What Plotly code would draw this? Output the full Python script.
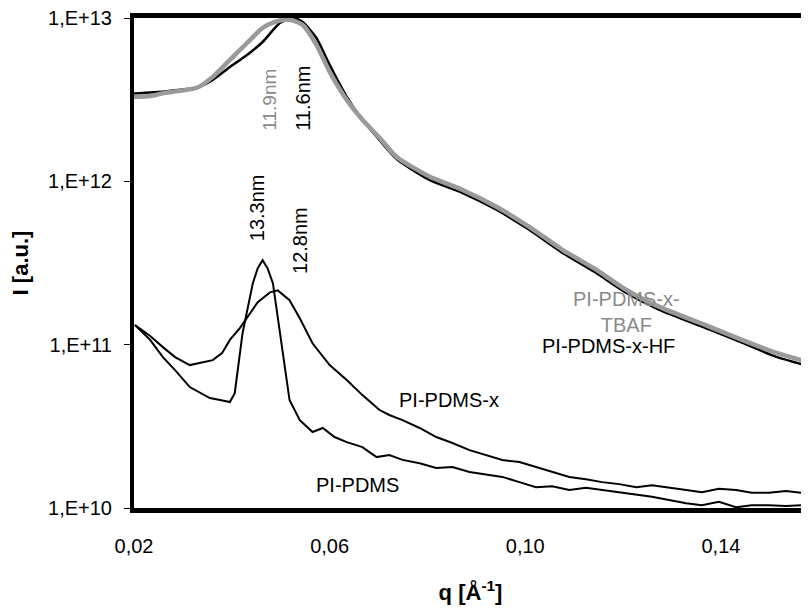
import plotly.graph_objects as go

# ---- data ----
q_tbaf = [0.0200, 0.0233, 0.0263, 0.0294, 0.0329, 0.0361, 0.0390, 0.0431, 0.0463, 0.0488,
          0.0504, 0.0522, 0.0545, 0.0573, 0.0600, 0.0635, 0.0667, 0.0702, 0.0737, 0.0804,
          0.0871, 0.0941, 0.1008, 0.1076, 0.1145, 0.1206, 0.1273, 0.1376, 0.1443, 0.1512, 0.1576]
i_tbaf = [3.29e12, 3.33e12, 3.48e12, 3.58e12, 3.74e12, 4.36e12, 5.31e12, 7.03e12, 8.69e12, 9.46e12,
          9.72e12, 9.72e12, 9.06e12, 6.84e12, 4.68e12, 3.15e12, 2.38e12, 1.85e12, 1.41e12, 1.07e12,
          8.88e11, 6.98e11, 5.27e11, 3.81e11, 2.88e11, 2.17e11, 1.71e11, 1.29e11, 1.07e11, 8.94e10, 7.87e10]

q_hf = [0.0200, 0.0263, 0.0329, 0.0361, 0.0396, 0.0431, 0.0463, 0.0498, 0.0518, 0.0533,
        0.0545, 0.0573, 0.0600, 0.0635, 0.0667, 0.0702, 0.0737, 0.0804, 0.0871, 0.0941,
        0.1008, 0.1076, 0.1145, 0.1206, 0.1273, 0.1376, 0.1443, 0.1512, 0.1576]
i_hf = [3.45e12, 3.55e12, 3.75e12, 4.18e12, 5.01e12, 5.94e12, 7.13e12, 9.31e12, 9.86e12, 9.86e12,
        9.46e12, 7.55e12, 5.16e12, 3.29e12, 2.38e12, 1.79e12, 1.37e12, 1.02e12, 8.51e11, 6.70e11,
        5.05e11, 3.65e11, 2.75e11, 2.08e11, 1.64e11, 1.24e11, 1.03e11, 8.45e10, 7.44e10]

q_pdms = [0.0202, 0.0233, 0.0259, 0.0284, 0.0314, 0.0335, 0.0355, 0.0376, 0.0396, 0.0406,
          0.0422, 0.0443, 0.0453, 0.0463, 0.0473, 0.0484, 0.0504, 0.0518, 0.0539, 0.0565,
          0.0586, 0.0610, 0.0635, 0.0667, 0.0696, 0.0722, 0.0749, 0.0784, 0.0818, 0.0851,
          0.0886, 0.0920, 0.0953, 0.0988, 0.1022, 0.1055, 0.1090, 0.1124, 0.1157, 0.1192,
          0.1227, 0.1259, 0.1294, 0.1329, 0.1361, 0.1396, 0.1431, 0.1463, 0.1498, 0.1533,
          0.1565, 0.1576]
i_pdms = [1.32e11, 1.07e11, 8.39e10, 6.98e10, 5.50e10, 5.05e10, 4.71e10, 4.58e10, 4.45e10, 5.05e10,
          1.18e11, 2.38e11, 2.94e11, 3.29e11, 2.94e11, 2.38e11, 9.25e10, 4.58e10, 3.45e10, 2.92e10,
          3.09e10, 2.72e10, 2.53e10, 2.36e10, 2.05e10, 2.11e10, 1.97e10, 1.88e10, 1.76e10, 1.78e10,
          1.66e10, 1.61e10, 1.55e10, 1.44e10, 1.34e10, 1.36e10, 1.29e10, 1.33e10, 1.29e10, 1.25e10,
          1.20e10, 1.17e10, 1.12e10, 1.07e10, 1.04e10, 1.09e10, 1.01e10, 1.04e10, 1.04e10, 1.03e10,
          1.04e10, 1.03e10]

q_pdmsx = [0.0202, 0.0233, 0.0259, 0.0284, 0.0314, 0.0335, 0.0361, 0.0380, 0.0396, 0.0416,
           0.0431, 0.0453, 0.0478, 0.0494, 0.0518, 0.0539, 0.0565, 0.0600, 0.0635, 0.0667,
           0.0702, 0.0722, 0.0749, 0.0784, 0.0818, 0.0851, 0.0886, 0.0920, 0.0953, 0.0988,
           0.1022, 0.1055, 0.1090, 0.1124, 0.1157, 0.1192, 0.1227, 0.1259, 0.1294, 0.1329,
           0.1361, 0.1396, 0.1431, 0.1463, 0.1498, 0.1533, 0.1565, 0.1576]
i_pdmsx = [1.32e11, 1.13e11, 9.66e10, 8.39e10, 7.50e10, 7.71e10, 8.04e10, 8.87e10, 1.07e11, 1.26e11,
           1.47e11, 1.82e11, 2.09e11, 2.15e11, 1.87e11, 1.45e11, 1.02e11, 7.50e10, 6.07e10, 4.91e10,
           3.98e10, 3.71e10, 3.45e10, 3.09e10, 2.72e10, 2.50e10, 2.26e10, 2.11e10, 1.97e10, 1.91e10,
           1.78e10, 1.66e10, 1.55e10, 1.50e10, 1.44e10, 1.40e10, 1.34e10, 1.38e10, 1.34e10, 1.29e10,
           1.25e10, 1.31e10, 1.29e10, 1.24e10, 1.24e10, 1.27e10, 1.24e10, 1.25e10]

x_tickvals = [0.02, 0.06, 0.10, 0.14]
x_ticktext = ["0,02", "0,06", "0,10", "0,14"]
y_tickvals = [1e10, 1e11, 1e12, 1e13]
y_ticktext = ["1,E+10", "1,E+11", "1,E+12", "1,E+13"]

FONT = "Liberation Sans, Arial, sans-serif"
GRAY = "#8a8a8a"

fig = go.Figure()
fig.add_trace(go.Scatter(x=q_hf, y=i_hf, mode="lines",
                         line=dict(color="black", width=2.5, shape="spline", smoothing=0.6),
                         showlegend=False))
fig.add_trace(go.Scatter(x=q_tbaf, y=i_tbaf, mode="lines",
                         line=dict(color="#9a9a9a", width=4.5, shape="spline", smoothing=0.6),
                         showlegend=False))
fig.add_trace(go.Scatter(x=q_pdmsx, y=i_pdmsx, mode="lines", line=dict(color="black", width=2),
                         showlegend=False))
fig.add_trace(go.Scatter(x=q_pdms, y=i_pdms, mode="lines", line=dict(color="black", width=2),
                         showlegend=False))

ann_font = dict(family=FONT, size=20, color="black")
annotations = [
    dict(x=0.0478, y=12.50, text="11.9nm", textangle=-90, font=dict(family=FONT, size=19, color=GRAY)),
    dict(x=0.0545, y=12.51, text="11.6nm", textangle=-90, font=ann_font),
    dict(x=0.0453, y=11.84, text="13.3nm", textangle=-90, font=ann_font),
    dict(x=0.0539, y=11.64, text="12.8nm", textangle=-90, font=ann_font),
    dict(x=0.1206, y=11.20, text="PI-PDMS-x-<br>TBAF", font=dict(family=FONT, size=20, color=GRAY)),
    dict(x=0.1170, y=10.99, text="PI-PDMS-x-HF", font=ann_font),
    dict(x=0.0845, y=10.66, text="PI-PDMS-x", font=ann_font),
    dict(x=0.0657, y=10.14, text="PI-PDMS", font=ann_font),
]
for a in annotations:
    a.update(xref="x", yref="y", showarrow=False)

fig.update_layout(
    width=801, height=608,
    margin=dict(l=126, r=2, t=10, b=108),
    paper_bgcolor="white", plot_bgcolor="white",
    font=dict(family=FONT, size=20, color="black"),
    annotations=annotations,
    xaxis=dict(range=[0.02, 0.1576], tickvals=x_tickvals, ticktext=x_ticktext,
               showline=True, linecolor="black", linewidth=5, mirror=True,
               ticks="", showgrid=False, zeroline=False, ticklabelstandoff=16,
               automargin=False, ticklabeloverflow="allow",
               tickfont=dict(family=FONT, size=20),
               title=dict(text="<b>q [Å<sup>-1</sup>]</b>", font=dict(family=FONT, size=22), standoff=30)),
    yaxis=dict(type="log", range=[10, 13], tickvals=y_tickvals, ticktext=y_ticktext,
               showline=True, linecolor="black", linewidth=4,
               ticks="outside", ticklen=6, tickcolor="black", tickwidth=1,
               showgrid=False, zeroline=False, ticklabelstandoff=8,
               automargin=False, ticklabeloverflow="allow",
               tickfont=dict(family=FONT, size=20),
               title=dict(text="<b>I [a.u.]</b>", font=dict(family=FONT, size=22), standoff=14)),
    shapes=[dict(type="line", xref="paper", yref="paper", x0=1, x1=1, y0=0, y1=1,
                 line=dict(color="#888888", width=1))],
)

fig.write_html("out.html")
